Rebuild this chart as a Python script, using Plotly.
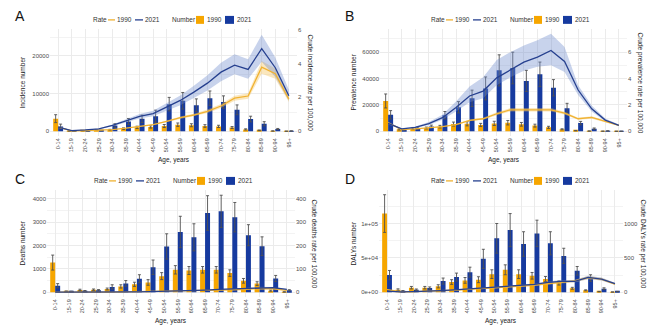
import plotly.graph_objects as go

ages = ["0-14", "15-19", "20-24", "25-29", "30-34", "35-39", "40-44", "45-49", "50-54",
        "55-59", "60-64", "65-69", "70-74", "75-79", "80-84", "85-89", "90-94", "95+"]

# ---------------- A: incidence ----------------
inc_n90 = [3350, 100, 150, 300, 400, 700, 1050, 1150, 1400, 1750, 1600, 1400, 1300, 1000, 500, 250, 80, 20]
inc_n90_hi = [4400, 130, 200, 380, 520, 900, 1350, 1450, 1800, 2200, 2000, 1750, 1600, 1250, 650, 330, 110, 30]
inc_n21 = [1300, 50, 100, 200, 1500, 2600, 3300, 4000, 7200, 8100, 6900, 8800, 7750, 5700, 3250, 2000, 600, 80]
inc_n21_hi = [1900, 70, 140, 270, 2000, 3400, 4300, 5600, 9000, 10300, 8600, 10700, 9400, 7000, 4000, 2550, 750, 110]
inc_r90 = [0.24, 0.02, 0.04, 0.06, 0.10, 0.18, 0.29, 0.39, 0.59, 0.80, 0.96, 1.18, 1.49, 1.95, 2.08, 3.78, 3.40, 1.90]
inc_r90_lo = [0.22, 0.018, 0.035, 0.055, 0.09, 0.165, 0.265, 0.36, 0.54, 0.73, 0.88, 1.08, 1.37, 1.80, 1.92, 3.40, 3.10, 1.72]
inc_r90_hi = [0.26, 0.022, 0.045, 0.065, 0.11, 0.195, 0.315, 0.42, 0.64, 0.87, 1.04, 1.28, 1.61, 2.10, 2.24, 4.15, 3.70, 2.08]
inc_r21 = [0.25, 0.04, 0.08, 0.14, 0.35, 0.63, 0.88, 1.04, 1.43, 1.82, 2.31, 2.84, 3.49, 3.90, 3.65, 4.88, 3.75, 2.10]
inc_r21_lo = [0.21, 0.034, 0.068, 0.12, 0.30, 0.54, 0.75, 0.88, 1.21, 1.54, 1.96, 2.40, 2.95, 3.37, 3.10, 4.10, 3.20, 1.80]
inc_r21_hi = [0.29, 0.046, 0.092, 0.16, 0.40, 0.73, 1.02, 1.21, 1.66, 2.11, 2.68, 3.30, 4.05, 4.55, 4.25, 5.70, 4.35, 2.45]

# ---------------- B: prevalence ----------------
prev_n90 = [23000, 1500, 2000, 2500, 3500, 5500, 5700, 4800, 6000, 6500, 5300, 4300, 3000, 1500, 500, 200, 80, 30]
prev_n90_hi = [28300, 2000, 2600, 3200, 4500, 7000, 7300, 6000, 7600, 8200, 6700, 5400, 3800, 1900, 650, 260, 100, 40]
prev_n21 = [12500, 1200, 2500, 3700, 12200, 18200, 25000, 32500, 46200, 48000, 38200, 43200, 33000, 17500, 6200, 2000, 300, 50]
prev_n21_hi = [15700, 1500, 3200, 4700, 15000, 22500, 31200, 41200, 58000, 60000, 46200, 52500, 39200, 21200, 7500, 2500, 380, 70]
prev_r90 = [0.65, 0.13, 0.18, 0.25, 0.35, 0.50, 0.83, 0.95, 1.33, 1.63, 1.63, 1.60, 1.63, 1.38, 0.95, 1.05, 0.75, 0.45]
prev_r90_lo = [0.60, 0.12, 0.165, 0.23, 0.32, 0.46, 0.76, 0.87, 1.22, 1.50, 1.50, 1.47, 1.50, 1.27, 0.87, 0.96, 0.69, 0.41]
prev_r90_hi = [0.70, 0.14, 0.195, 0.27, 0.38, 0.54, 0.90, 1.03, 1.44, 1.76, 1.76, 1.73, 1.76, 1.49, 1.03, 1.14, 0.81, 0.49]
prev_r21 = [0.60, 0.18, 0.30, 0.58, 1.03, 1.80, 2.68, 3.05, 4.05, 4.63, 5.25, 5.63, 6.13, 5.30, 3.13, 1.70, 0.85, 0.45]
prev_r21_lo = [0.50, 0.15, 0.25, 0.48, 0.88, 1.50, 2.20, 2.50, 3.50, 4.10, 4.60, 4.90, 5.00, 4.50, 2.75, 1.50, 0.75, 0.40]
prev_r21_hi = [0.72, 0.22, 0.36, 0.70, 1.25, 2.25, 3.40, 4.10, 5.40, 6.00, 6.50, 6.90, 7.40, 6.40, 3.50, 1.95, 0.97, 0.52]

# ---------------- C: deaths ----------------
dth_n90 = [1270, 40, 100, 110, 140, 250, 340, 420, 690, 960, 930, 960, 960, 820, 490, 370, 70, 15]
dth_n90_hi = [1590, 55, 130, 140, 180, 320, 430, 540, 840, 1140, 1100, 1100, 1100, 960, 590, 450, 95, 22]
dth_n21 = [280, 30, 55, 85, 230, 380, 580, 1070, 1960, 2580, 2350, 3390, 3460, 3210, 2440, 1970, 590, 85]
dth_n21_hi = [370, 45, 75, 115, 320, 500, 750, 1380, 2500, 3250, 2930, 4130, 4150, 3840, 2890, 2370, 720, 110]
dth_r90 = [1.0, 0.3, 0.5, 0.6, 0.9, 1.5, 2.2, 3.0, 4.0, 5.0, 6.0, 7.5, 9.0, 10.5, 13.0, 16.0, 15.0, 8.0]
dth_r90_lo = [0.9, 0.27, 0.45, 0.54, 0.8, 1.35, 2.0, 2.7, 3.6, 4.5, 5.4, 6.7, 8.1, 9.4, 11.7, 14.2, 13.2, 7.0]
dth_r90_hi = [1.1, 0.33, 0.55, 0.66, 1.0, 1.65, 2.4, 3.3, 4.4, 5.5, 6.6, 8.3, 9.9, 11.6, 14.3, 17.8, 16.8, 9.0]
dth_r21 = [0.4, 0.2, 0.3, 0.5, 0.8, 1.2, 1.8, 2.8, 3.8, 5.2, 6.8, 9.5, 12.0, 14.0, 17.0, 21.0, 20.0, 12.0]
dth_r21_lo = [0.35, 0.17, 0.26, 0.44, 0.7, 1.05, 1.6, 2.5, 3.4, 4.6, 6.0, 8.4, 10.6, 12.4, 15.0, 18.5, 17.5, 10.4]
dth_r21_hi = [0.45, 0.23, 0.34, 0.56, 0.9, 1.35, 2.0, 3.1, 4.2, 5.8, 7.6, 10.6, 13.4, 15.6, 19.0, 23.5, 22.5, 13.6]

# ---------------- D: DALYs ----------------
daly_n90 = [114400, 3800, 6700, 6700, 8700, 14900, 17300, 18300, 26400, 32700, 26400, 24000, 19200, 13500, 5800, 2900, 1000, 400]
daly_n90_hi = [141800, 5000, 8500, 8500, 11000, 18300, 21500, 22600, 32700, 39900, 32700, 28800, 23000, 16500, 7200, 3600, 1300, 500]
daly_n21 = [25000, 1900, 3800, 6200, 16300, 22100, 29300, 48600, 78400, 90400, 70200, 85600, 71200, 52900, 31300, 20700, 5300, 1000]
daly_n21_hi = [31700, 2500, 4800, 7800, 20700, 27900, 36500, 62500, 100000, 114400, 88000, 104800, 88000, 64000, 37500, 25500, 6500, 1300]
daly_r90 = [40, 8, 10, 14, 20, 30, 42, 52, 65, 78, 90, 105, 125, 150, 165, 212, 190, 118]
daly_r90_lo = [35, 7, 9, 12, 17, 26, 37, 46, 57, 69, 80, 93, 111, 133, 147, 190, 170, 105]
daly_r90_hi = [45, 9, 11, 16, 23, 34, 47, 58, 73, 87, 100, 117, 139, 167, 183, 235, 210, 131]
daly_r21 = [18, 5, 9, 14, 24, 35, 48, 62, 77, 87, 100, 115, 144, 159, 159, 216, 192, 125]
daly_r21_lo = [16, 4, 8, 12, 21, 31, 42, 55, 68, 77, 89, 102, 128, 141, 141, 192, 170, 110]
daly_r21_hi = [20, 6, 10, 16, 27, 39, 54, 69, 86, 97, 111, 128, 160, 177, 177, 240, 214, 140]

ORANGE = "#F6A600"
BLUE = "#163A9F"
LINE90 = "#F0B232"
LINE21 = "#26408F"
BAND90 = "rgba(246,196,90,0.40)"
BAND21 = "rgba(110,140,205,0.38)"
ERR = "#505050"
GRID = "#EBEBEB"
TICK = "#4D4D4D"
FONT = "Liberation Sans, Arial, sans-serif"

W, H = 660, 326


def fx(x):
    return x / W


def fy(y):
    return 1 - y / H


panels = [
    dict(letter="A", n90=inc_n90, n90_hi=inc_n90_hi, n21=inc_n21, n21_hi=inc_n21_hi,
         r90=inc_r90, r90_lo=inc_r90_lo, r90_hi=inc_r90_hi,
         r21=inc_r21, r21_lo=inc_r21_lo, r21_hi=inc_r21_hi,
         xpx=(50, 297), ypx=(27, 135), lrange=(-1300, 27200), factor=4500,
         lticks=[0, 10000, 20000], lticktext=["0", "10000", "20000"], rticks=[0, 2, 4, 6],
         ltitle="Incidence number", rtitle="Crude incidence rate per 100,000",
         ltx=23, rtx=310, leg=(91, 18), lpos=(13, 14)),
    dict(letter="B", n90=prev_n90, n90_hi=prev_n90_hi, n21=prev_n21, n21_hi=prev_n21_hi,
         r90=prev_r90, r90_lo=prev_r90_lo, r90_hi=prev_r90_hi,
         r21=prev_r21, r21_lo=prev_r21_lo, r21_hi=prev_r21_hi,
         xpx=(380, 627), ypx=(27, 135), lrange=(-3700, 77700), factor=10000,
         lticks=[0, 20000, 40000, 60000], lticktext=["0", "20000", "40000", "60000"], rticks=[0, 2, 4, 6],
         ltitle="Prevalence number", rtitle="Crude prevalence rate per 100,000",
         ltx=354, rtx=640, leg=(429, 18), lpos=(343, 14)),
    dict(letter="C", n90=dth_n90, n90_hi=dth_n90_hi, n21=dth_n21, n21_hi=dth_n21_hi,
         r90=dth_r90, r90_lo=dth_r90_lo, r90_hi=dth_r90_hi,
         r21=dth_r21, r21_lo=dth_r21_lo, r21_hi=dth_r21_hi,
         xpx=(47, 295), ypx=(189, 297), lrange=(-210, 4380), factor=10,
         lticks=[0, 1000, 2000, 3000, 4000], lticktext=["0", "1000", "2000", "3000", "4000"],
         rticks=[0, 100, 200, 300, 400],
         ltitle="Deaths number", rtitle="Crude deaths rate per 100,000",
         ltx=23, rtx=314, leg=(92, 180), lpos=(13, 178)),
    dict(letter="D", n90=daly_n90, n90_hi=daly_n90_hi, n21=daly_n21, n21_hi=daly_n21_hi,
         r90=daly_r90, r90_lo=daly_r90_lo, r90_hi=daly_r90_hi,
         r21=daly_r21, r21_lo=daly_r21_lo, r21_hi=daly_r21_hi,
         xpx=(379, 623), ypx=(189, 297), lrange=(-7100, 148900), factor=100,
         lticks=[0, 50000, 100000], lticktext=["0e+00", "5e+04", "1e+05"],
         rticks=[0, 500, 1000],
         ltitle="DALYs number", rtitle="Crude DALYs rate per 100,000",
         ltx=354, rtx=643, leg=(429, 180), lpos=(343, 178)),
]

fig = go.Figure()
annotations = []
shapes = []
layout_axes = {}

for i, p in enumerate(panels, start=1):
    xa = "x" if i == 1 else f"x{i}"
    yl = 2 * i - 1
    yr = 2 * i
    yla = "y" if yl == 1 else f"y{yl}"
    yra = f"y{yr}"

    err_common = dict(type="data", visible=True, color=ERR, thickness=0.9, width=1.5, symmetric=True)
    fig.add_trace(go.Bar(x=ages, y=p["n90"], marker=dict(color=ORANGE, line=dict(width=0)),
                         error_y=dict(array=[h - v for h, v in zip(p["n90_hi"], p["n90"])], **err_common),
                         xaxis=xa, yaxis=yla, showlegend=False, offsetgroup="a"))
    fig.add_trace(go.Bar(x=ages, y=p["n21"], marker=dict(color=BLUE, line=dict(width=0)),
                         error_y=dict(array=[h - v for h, v in zip(p["n21_hi"], p["n21"])], **err_common),
                         xaxis=xa, yaxis=yla, showlegend=False, offsetgroup="b"))
    # ribbons
    for lo, hi, col in ((p["r90_lo"], p["r90_hi"], BAND90), (p["r21_lo"], p["r21_hi"], BAND21)):
        fig.add_trace(go.Scatter(x=ages, y=lo, mode="lines", line=dict(width=0, color=col),
                                 xaxis=xa, yaxis=yra, showlegend=False, hoverinfo="skip"))
        fig.add_trace(go.Scatter(x=ages, y=hi, mode="lines", line=dict(width=0, color=col),
                                 fill="tonexty", fillcolor=col,
                                 xaxis=xa, yaxis=yra, showlegend=False, hoverinfo="skip"))
    fig.add_trace(go.Scatter(x=ages, y=p["r90"], mode="lines", line=dict(color=LINE90, width=1.3),
                             xaxis=xa, yaxis=yra, showlegend=False))
    fig.add_trace(go.Scatter(x=ages, y=p["r21"], mode="lines", line=dict(color=LINE21, width=1.3),
                             xaxis=xa, yaxis=yra, showlegend=False))

    xdom = [fx(p["xpx"][0]), fx(p["xpx"][1])]
    ydom = [fy(p["ypx"][1]), fy(p["ypx"][0])]
    lo_, hi_ = p["lrange"]
    xkey = "xaxis" if i == 1 else f"xaxis{i}"
    ylkey = "yaxis" if yl == 1 else f"yaxis{yl}"
    yrkey = f"yaxis{yr}"
    step = p["lticks"][1] - p["lticks"][0]
    layout_axes[xkey] = dict(domain=xdom, anchor=yla, type="category", range=[-0.6, 17.6],
                             tickangle=-90, tickfont=dict(size=5.5, color=TICK, family=FONT),
                             showgrid=True, gridcolor=GRID, gridwidth=0.7, ticks="",
                             showline=False, zeroline=False)
    layout_axes[ylkey] = dict(domain=ydom, anchor=xa, range=[lo_, hi_],
                              tickvals=p["lticks"], ticktext=p["lticktext"],
                              tickfont=dict(size=6, color=TICK, family=FONT),
                              showgrid=True, gridcolor=GRID, gridwidth=0.7, ticks="",
                              minor=dict(showgrid=True, gridcolor="#F3F3F3", gridwidth=0.5,
                                         tickvals=[v + step / 2 for v in p["lticks"]]),
                              zeroline=False, showline=False)
    layout_axes[yrkey] = dict(overlaying=yla, side="right", anchor=xa,
                              range=[lo_ / p["factor"], hi_ / p["factor"]],
                              tickvals=p["rticks"], tickfont=dict(size=6, color=TICK, family=FONT),
                              showgrid=False, zeroline=False, showline=False, ticks="")

    # axis titles
    cy = fy((p["ypx"][0] + p["ypx"][1]) / 2)
    tf = dict(size=6.5, color="#222", family=FONT)
    annotations.append(dict(text=p["ltitle"], x=fx(p["ltx"]), y=cy, xref="paper", yref="paper",
                            xanchor="center", yanchor="middle",
                            textangle=-90, showarrow=False, font=tf))
    annotations.append(dict(text=p["rtitle"], x=fx(p["rtx"]), y=cy, xref="paper", yref="paper",
                            xanchor="center", yanchor="middle",
                            textangle=90, showarrow=False, font=tf))
    cx = fx((p["xpx"][0] + p["xpx"][1]) / 2)
    annotations.append(dict(text="Age, years", x=cx, y=fy(p["ypx"][1] + 24), xref="paper", yref="paper",
                            xanchor="center", yanchor="middle", showarrow=False, font=tf))
    # panel letter
    annotations.append(dict(text=p["letter"], x=fx(p["lpos"][0]), y=fy(p["lpos"][1]), xref="paper", yref="paper",
                            xanchor="left", yanchor="middle", showarrow=False,
                            font=dict(size=14, color="#111", family=FONT)))
    # legend
    lx, ly = p["leg"]
    lf = dict(size=6.5, color="#333", family=FONT)
    for txt, ox in (("Rate", 0), ("1990", 24), ("2021", 52), ("Number", 79), ("1990", 114), ("2021", 144)):
        annotations.append(dict(text=txt, x=fx(lx + ox), y=fy(ly), xref="paper", yref="paper",
                                xanchor="left", yanchor="middle", showarrow=False, font=lf))
    shapes.append(dict(type="line", xref="paper", yref="paper", x0=fx(lx + 17), x1=fx(lx + 24),
                       y0=fy(ly), y1=fy(ly), line=dict(color=LINE90, width=1.3)))
    shapes.append(dict(type="line", xref="paper", yref="paper", x0=fx(lx + 44), x1=fx(lx + 52),
                       y0=fy(ly), y1=fy(ly), line=dict(color=LINE21, width=1.3)))
    shapes.append(dict(type="rect", xref="paper", yref="paper", x0=fx(lx + 105), x1=fx(lx + 113),
                       y0=fy(ly + 4), y1=fy(ly - 4), fillcolor=ORANGE, line=dict(width=0)))
    shapes.append(dict(type="rect", xref="paper", yref="paper", x0=fx(lx + 134), x1=fx(lx + 143),
                       y0=fy(ly + 4), y1=fy(ly - 4), fillcolor=BLUE, line=dict(width=0)))

fig.update_layout(
    width=W, height=H, margin=dict(l=0, r=0, t=0, b=0),
    paper_bgcolor="white", plot_bgcolor="white",
    barmode="group", bargap=0.27, bargroupgap=0,
    font=dict(family=FONT, size=6.5, color="#333"),
    annotations=annotations, shapes=shapes, showlegend=False,
    **layout_axes,
)

fig.write_html("out.html")
